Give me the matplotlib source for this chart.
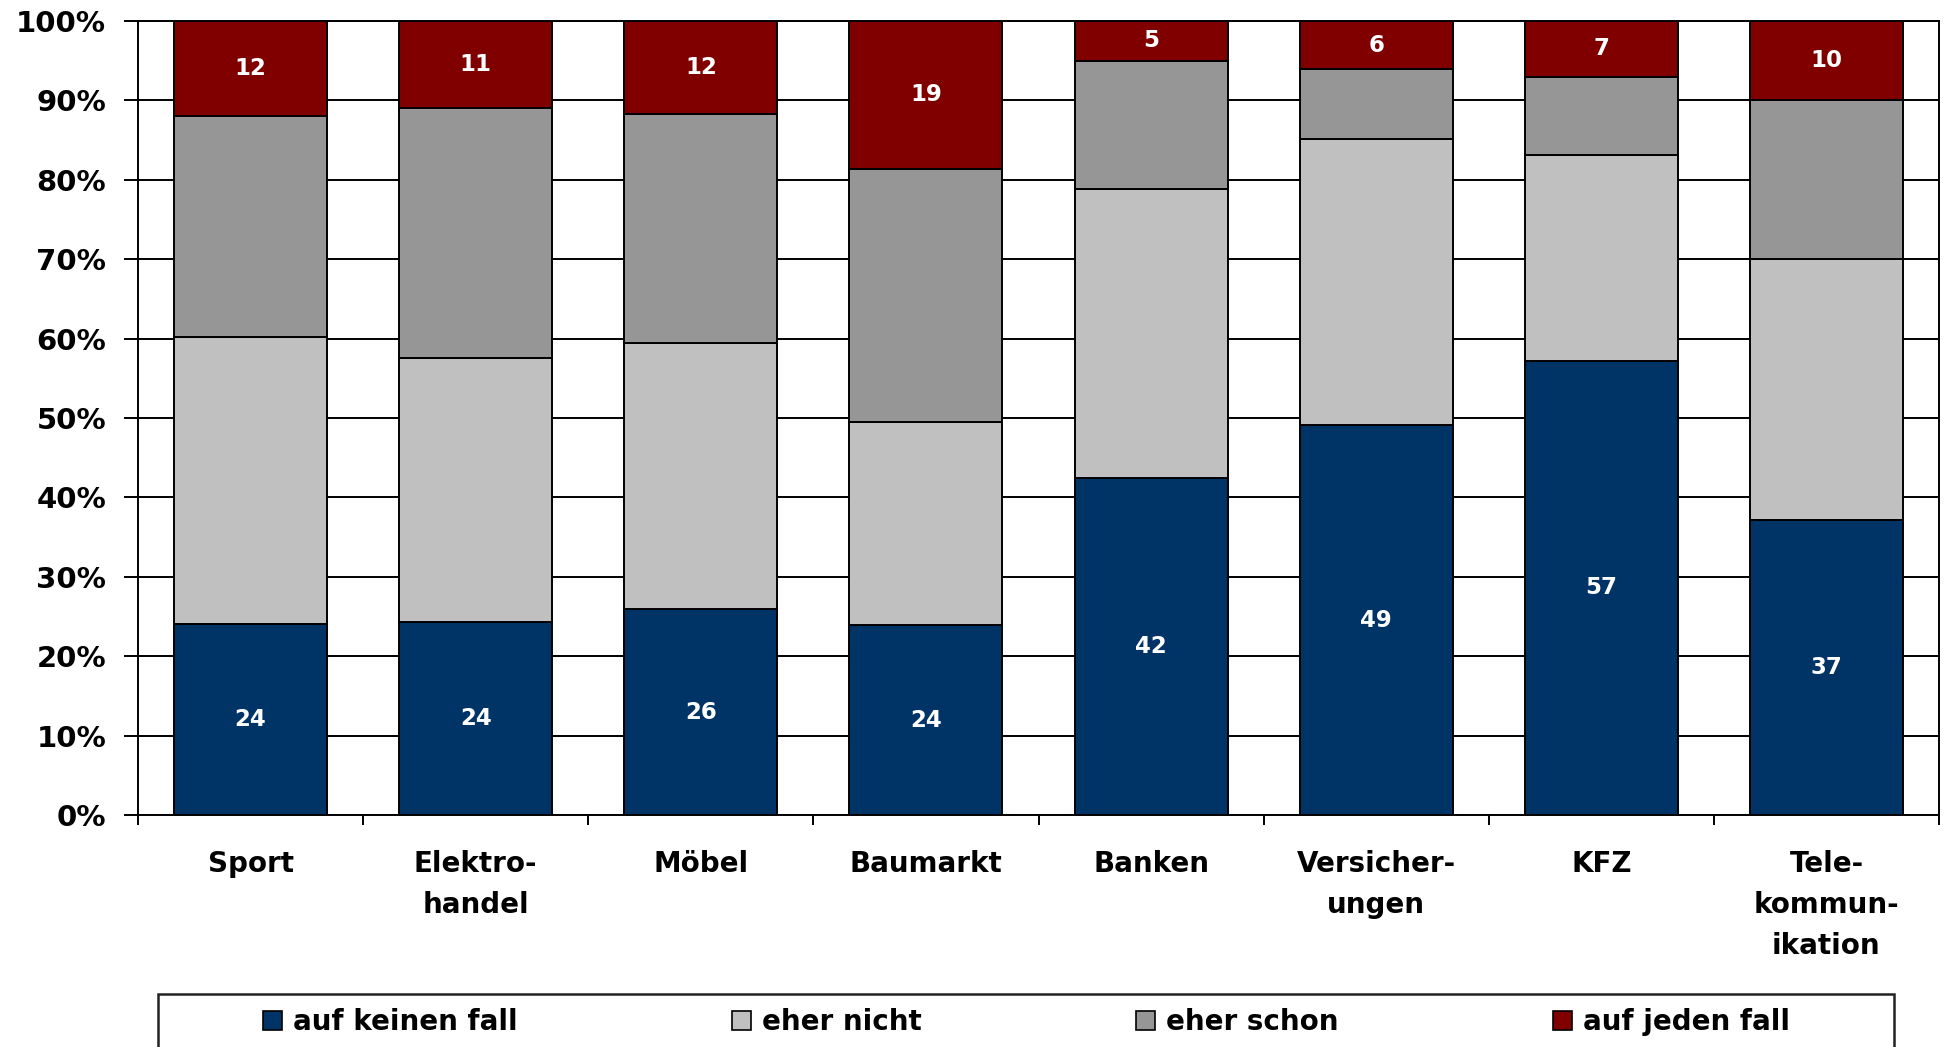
import matplotlib
matplotlib.use("Agg")
import matplotlib.pyplot as plt
from matplotlib.patches import Rectangle, Patch
import numpy as np

categories = ["Sport", "Elektro-\nhandel", "Möbel", "Baumarkt", "Banken",
              "Versicher-\nungen", "KFZ", "Tele-\nkommun-\nikation"]
series_names = ["auf keinen fall", "eher nicht", "eher schon", "auf jeden fall"]

auf_keinen_fall = [24.0, 24.3, 25.9, 23.9, 42.4, 49.1, 57.2, 37.2]
eher_nicht = [36.2, 33.3, 33.5, 25.6, 36.5, 36.1, 25.9, 32.8]
eher_schon = [27.8, 31.4, 28.9, 31.9, 16.1, 8.7, 9.9, 20.0]
auf_jeden_fall = [12.0, 11.0, 11.7, 18.6, 5.0, 6.1, 7.0, 10.0]

colors = ["#003366", "#C0C0C0", "#969696", "#800000"]
labelled = [True, False, False, True]

plt.rcParams['font.family'] = ['DejaVu Sans']
plt.rcParams['font.weight'] = 'bold'

fig = plt.figure(figsize=(19.45, 10.47), dpi=100)
ax = fig.add_axes([138 / 1945, 1 - 815 / 1047, (1939 - 138) / 1945, (815 - 21) / 1047])

x = np.arange(len(categories))
bottom = np.zeros(len(categories))
for vals, name, col, lab in zip([auf_keinen_fall, eher_nicht, eher_schon, auf_jeden_fall],
                                series_names, colors, labelled):
    vals = np.array(vals)
    ax.bar(x, vals, 0.68, bottom=bottom, color=col, edgecolor="black",
           linewidth=1.4, zorder=3)
    if lab:
        for xi, b, v in zip(x, bottom, vals):
            ax.text(xi, b + v / 2, "%d" % round(v), ha="center", va="center",
                    color="white", fontsize=16.5, fontweight="bold", zorder=4)
    bottom += vals

ax.set_xlim(-0.5, len(categories) - 0.5)
ax.set_ylim(0, 100)
ax.set_yticks(np.arange(0, 101, 10))
ax.set_yticklabels(["%d%%" % v for v in range(0, 101, 10)], fontsize=21, fontweight="bold")
ax.yaxis.grid(True, color="black", linewidth=1.4, zorder=0)
ax.set_axisbelow(True)

ax.set_xticks(x)
ax.set_xticklabels(categories, fontsize=20, fontweight="bold", linespacing=1.6, va="top")
ax.set_xticks(np.arange(-0.5, len(categories), 1), minor=True)
ax.tick_params(axis="x", which="major", length=0, pad=25)
ax.tick_params(axis="x", which="minor", length=7, width=1.4, direction="out")
ax.tick_params(axis="y", length=10, width=1.4, direction="out", pad=13)

for s in ["left", "bottom", "right", "top"]:
    ax.spines[s].set_linewidth(1.4)
    ax.spines[s].set_color("black")

# legend frame (runs off the bottom edge like the original)
fig.patches.append(Rectangle((158 / 1945, -0.05), (1894 - 158) / 1945, 0.05 + (1047 - 994) / 1047,
                             transform=fig.transFigure, facecolor="none",
                             edgecolor="#222222", linewidth=1.8))

handles = [Patch(facecolor=c, edgecolor="black", linewidth=1.2) for c in colors]
fig.legend(handles, series_names, ncol=4, loc="center", mode="expand",
           bbox_to_anchor=(263 / 1945, 1 - 1032 / 1047, (1790 - 263) / 1945, 20 / 1047),
           frameon=False, borderpad=0, borderaxespad=0, handlelength=0.68, handleheight=0.68,
           handletextpad=0.4, prop={"size": 20, "weight": "bold"})

fig.savefig("out.png", dpi=100)
